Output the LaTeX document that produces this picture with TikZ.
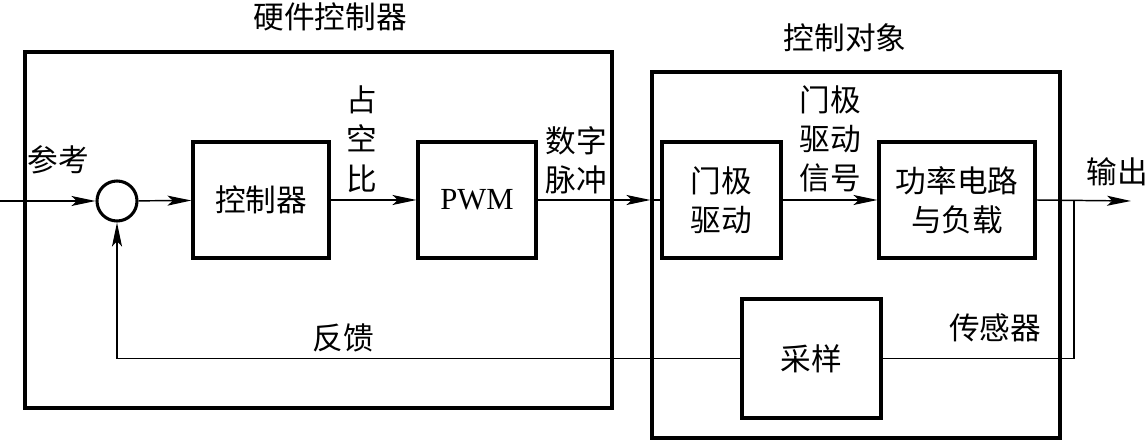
\documentclass[tikz,border=0pt]{standalone}
\usepackage{fontspec}
\setmainfont{Liberation Serif}
\newfontfamily\cjk{Noto Sans CJK SC}
\usetikzlibrary{arrows.meta}
\begin{document}
\begin{tikzpicture}[x=0.75pt,y=-0.75pt,
  blk/.style={draw,line width=2.3pt,inner sep=0pt,font=\cjk\fontsize{23}{29.5}\selectfont,align=center},
  frame/.style={draw,line width=2.3pt,inner sep=0pt},
  lbl/.style={font=\cjk\fontsize{23}{29.5}\selectfont,align=center,inner sep=0pt},
  conn/.style={line width=1.1pt,-{Stealth[length=18pt,width=7.5pt,inset=4pt]}},
  wire/.style={line width=1.1pt}]
\useasboundingbox (0,0) rectangle (1147,441);
% frames
\node[frame,minimum width=587*0.75pt,minimum height=356*0.75pt] (hw) at (318.5,230) {};
\node[frame,minimum width=408*0.75pt,minimum height=366*0.75pt] (plant) at (856,255) {};
\node[lbl] (hwl) at (330,17) {硬件控制器};
\node[lbl] (plantl) at (845,38) {控制对象};
% blocks
\node[draw,circle,line width=2.3pt,minimum size=40*0.75pt,inner sep=0pt] (sum) at (117,201) {};
\node[blk,minimum width=136*0.75pt,minimum height=116*0.75pt] (ctrl) at (261,200) {控制器};
\node[blk,minimum width=118*0.75pt,minimum height=116*0.75pt,font=\fontsize{23}{28}\selectfont] (pwm) at (477,200) {PWM};
\node[blk,minimum width=119*0.75pt,minimum height=116*0.75pt] (gate) at (721.5,200) {门极\\驱动};
\node[blk,minimum width=156*0.75pt,minimum height=116*0.75pt] (power) at (957,200) {功率电路\\与负载};
\node[blk,minimum width=139*0.75pt,minimum height=119*0.75pt] (samp) at (811.5,358.5) {采样};
% labels
\node[lbl] (l1) at (58,160) {参考};
\node[lbl] (l2) at (362,139) {占\\空\\比};
\node[lbl] (l3) at (576,160) {数字\\脉冲};
\node[lbl] (l4) at (830,139) {门极\\驱动\\信号};
\node[lbl] (l5) at (1117,172) {输出};
\node[lbl] (l6) at (995,328) {传感器};
\node[lbl] (l7) at (343,338) {反馈};
% connectors
\coordinate (in) at (0,201);
\coordinate (out) at (1131,201);
\coordinate (tap) at (1074,201);
\draw[conn] (in) -- (sum);
\draw[conn] (sum) -- (ctrl);
\draw[conn] (ctrl) -- (pwm);
\draw[conn] (pwm.east) -- (plant.west|-pwm.east);
\draw[wire] (plant.west|-pwm.east) -- (gate.west);
\draw[conn] (gate) -- (power);
\draw[conn] (power.east) -- (out);
\draw[wire] (tap) |- (samp.east);
\draw[conn] (samp.west) -| (sum.south);
\end{tikzpicture}
\end{document}
